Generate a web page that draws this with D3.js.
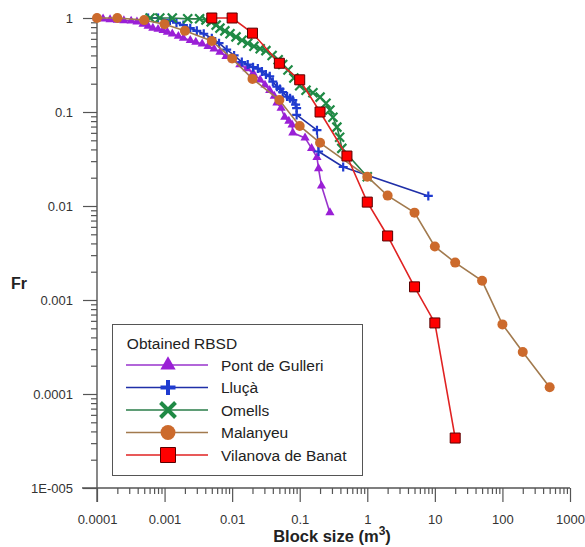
<!DOCTYPE html>
<html>
  <head>
    <meta charset="utf-8">
    <script src="https://d3js.org/d3.v7.min.js"></script>
    <style>
      body { margin: 0; background: #fff; }
      svg text { font-family: "Liberation Sans", Arial, sans-serif; }
    </style>
  </head>
<body>
  <script type="text/javascript">
    // block sizes (m3) and Fr values
    var pontX = [0.0001, 0.000123, 0.000156, 0.0002, 0.00025, 0.00032, 0.00039, 0.00048, 0.00057, 0.00067,
                 0.0008, 0.00095, 0.0011, 0.0013, 0.0016, 0.0019, 0.0024, 0.0029, 0.0036, 0.0044,
                 0.0054, 0.0066, 0.0081, 0.0103, 0.013, 0.0166, 0.0204, 0.026, 0.0306, 0.036,
                 0.042, 0.046, 0.053, 0.06, 0.069, 0.077, 0.079, 0.12, 0.15, 0.18, 0.19, 0.21, 0.28];
    var pontY = [1, 0.98, 0.96, 0.95, 0.94, 0.93, 0.91, 0.86, 0.82, 0.78,
                 0.76, 0.74, 0.71, 0.68, 0.64, 0.61, 0.58, 0.555, 0.53, 0.5,
                 0.47, 0.435, 0.39, 0.36, 0.32, 0.29, 0.26, 0.22, 0.194, 0.17,
                 0.148, 0.125, 0.11, 0.088, 0.08, 0.073, 0.06, 0.053, 0.041, 0.033, 0.025, 0.0164, 0.0085];

    var llucaX = [0.00057, 0.0008, 0.0012, 0.0015, 0.0019, 0.0024, 0.003, 0.0038, 0.005, 0.0064,
                  0.0083, 0.0107, 0.0139, 0.017, 0.0204, 0.024, 0.0276, 0.0316, 0.036, 0.04,
                  0.046, 0.051, 0.056, 0.065, 0.072, 0.079, 0.087, 0.09, 0.09, 0.18, 0.19, 0.44, 8];
    var llucaY = [1, 1, 0.94, 0.89, 0.84, 0.78, 0.73, 0.68, 0.61, 0.54,
                  0.46, 0.4, 0.34, 0.32, 0.3, 0.29, 0.27, 0.25, 0.24, 0.21,
                  0.186, 0.176, 0.163, 0.146, 0.14, 0.134, 0.12, 0.11, 0.093, 0.064, 0.038, 0.026, 0.0128];

    var omellsX = [0.00061, 0.00085, 0.0013, 0.0022, 0.0033, 0.0041, 0.0049, 0.0058, 0.0066, 0.0078,
                   0.0093, 0.0114, 0.014, 0.017, 0.021, 0.026, 0.0316, 0.039, 0.048, 0.056,
                   0.067, 0.082, 0.1, 0.124, 0.157, 0.2, 0.245, 0.28, 0.31, 0.355, 0.39, 0.42, 1];
    var omellsY = [1, 1, 1, 0.98, 0.98, 0.95, 0.91, 0.84, 0.78, 0.73,
                   0.68, 0.63, 0.58, 0.54, 0.5, 0.47, 0.45, 0.4, 0.36, 0.32,
                   0.28, 0.23, 0.19, 0.17, 0.16, 0.144, 0.124, 0.105, 0.088, 0.069, 0.054, 0.041, 0.0205];

    var malanyeuX = [0.0001, 0.0002, 0.0005, 0.001, 0.002, 0.005, 0.01, 0.02, 0.05, 0.1,
                     0.2, 1, 2, 5, 10, 20, 50, 100, 200, 500];
    var malanyeuY = [1, 1, 0.95, 0.86, 0.73, 0.57, 0.37, 0.225, 0.134, 0.071,
                     0.047, 0.0205, 0.0129, 0.0085, 0.0037, 0.0025, 0.0016, 0.00055, 0.00028, 0.000118];

    var vilanovaX = [0.005, 0.01, 0.02, 0.05, 0.1, 0.2, 0.5, 1, 2, 5, 10, 20];
    var vilanovaY = [1, 1, 0.69, 0.33, 0.22, 0.1, 0.034, 0.011, 0.0048, 0.00138, 0.00057, 0.000034];

    var xTicks = [0.0001, 0.001, 0.01, 0.1, 1, 10, 100, 1000];
    var xTickLabels = ["0.0001", "0.001", "0.01", "0.1", "1", "10", "100", "1000"];
    var yTicks = [1, 0.1, 0.01, 0.001, 0.0001, 0.00001];
    var yTickLabels = ["1", "0.1", "0.01", "0.001", "0.0001", "1E-005"];

    var seriesNames = ["Pont de Gulleri", "Lluçà", "Omells", "Malanyeu", "Vilanova de Banat"];

    var series = [
      {name: seriesNames[0], xs: pontX, ys: pontY, line: "#9933cc", fill: "#9a1fd6", shape: "triangle"},
      {name: seriesNames[1], xs: llucaX, ys: llucaY, line: "#1f2fa8", fill: "#1f3bd0", shape: "plus"},
      {name: seriesNames[2], xs: omellsX, ys: omellsY, line: "#2a7d48", fill: "#1f8a45", shape: "cross"},
      {name: seriesNames[3], xs: malanyeuX, ys: malanyeuY, line: "#a27a4e", fill: "#cc6a2c", shape: "circle"},
      {name: seriesNames[4], xs: vilanovaX, ys: vilanovaY, line: "#e02222", fill: "#ff0000", shape: "square"}
    ];

    var width = 585, height = 547;
    var svg = d3.select("body").append("svg")
        .attr("width", width)
        .attr("height", height);

    var x = d3.scaleLog().domain([1e-4, 1000]).range([97, 570]);
    var y = d3.scaleLog().domain([1e-5, 1]).range([488, 18]);

    function minorTicks(lo, hi) {
      var out = [];
      for (var e = lo; e < hi; e++) {
        for (var k = 2; k <= 9; k++) out.push(k * Math.pow(10, e));
      }
      return out;
    }

    /*
      Axes: major ticks long and labelled, minor ticks short
    */
    var axisColor = "#555";
    var xMinor = svg.append("g")
        .attr("transform", "translate(0," + y(1e-5) + ")")
        .call(d3.axisBottom(x).tickValues(minorTicks(-4, 3)).tickSize(6).tickFormat(""));
    var xMajor = svg.append("g")
        .attr("transform", "translate(0," + y(1e-5) + ")")
        .call(d3.axisBottom(x).tickValues(xTicks).tickSize(14).tickPadding(13)
          .tickFormat(function(d, i) { return xTickLabels[i]; }));
    var yMinor = svg.append("g")
        .attr("transform", "translate(" + x(1e-4) + ",0)")
        .call(d3.axisLeft(y).tickValues(minorTicks(-5, 0)).tickSize(6).tickFormat(""));
    var yMajor = svg.append("g")
        .attr("transform", "translate(" + x(1e-4) + ",0)")
        .call(d3.axisLeft(y).tickValues(yTicks).tickSize(14).tickPadding(10)
          .tickFormat(function(d, i) { return yTickLabels[i]; }));

    [xMinor, xMajor, yMinor, yMajor].forEach(function(g) {
      g.select(".domain").remove();
      g.selectAll(".tick line").attr("stroke", axisColor).attr("stroke-width", 1.2);
      g.selectAll("text").attr("fill", "#333").style("font-size", "13px");
    });

    // axis lines cross each other, like the original
    svg.append("line")
        .attr("x1", x(1e-4) - 15).attr("x2", x(1000))
        .attr("y1", y(1e-5)).attr("y2", y(1e-5))
        .attr("stroke", axisColor).attr("stroke-width", 1.4);
    svg.append("line")
        .attr("x1", x(1e-4)).attr("x2", x(1e-4))
        .attr("y1", y(1)).attr("y2", y(1e-5) + 14)
        .attr("stroke", axisColor).attr("stroke-width", 1.4);

    svg.append("text")
        .attr("x", 332).attr("y", 542)
        .attr("text-anchor", "middle")
        .style("font-size", "16.5px").style("font-weight", "bold").attr("fill", "#222")
        .html('Block size (m<tspan dy="-7" font-size="12">3</tspan><tspan dy="7">)</tspan>');
    svg.append("text")
        .attr("x", 19).attr("y", 289)
        .attr("text-anchor", "middle")
        .style("font-size", "16px").style("font-weight", "bold").attr("fill", "#222")
        .text("Fr");

    /*
      Markers
    */
    function marker(sel, s, size) {
      if (s.shape === "plus" || s.shape === "cross") {
        var h = size / 2;
        var p = s.shape === "plus"
            ? "M" + (-h) + ",0L" + h + ",0M0," + (-h) + "L0," + h
            : "M" + (-h) + "," + (-h) + "L" + h + "," + h + "M" + (-h) + "," + h + "L" + h + "," + (-h);
        sel.append("path").attr("d", p)
            .attr("stroke", s.fill).attr("stroke-width", size > 10 ? 4 : 2.2)
            .attr("fill", "none");
      } else {
        var type = s.shape === "triangle" ? d3.symbolTriangle
                 : s.shape === "circle" ? d3.symbolCircle : d3.symbolSquare;
        var area = s.shape === "triangle" ? size * size * 0.45
                 : s.shape === "circle" ? Math.PI * size * size / 4 : size * size;
        sel.append("path").attr("d", d3.symbol().type(type).size(area)())
            .attr("fill", s.fill)
            .attr("stroke", s.shape === "square" ? "#5a0000" : "none")
            .attr("stroke-width", 1);
      }
    }

    var markSize = {triangle: 9, plus: 9, cross: 9, circle: 10, square: 10};

    var line = d3.line()
        .x(function(d) { return x(d[0]); })
        .y(function(d) { return y(d[1]); });

    series.forEach(function(s) {
      var pts = s.xs.map(function(v, i) { return [v, s.ys[i]]; });
      var g = svg.append("g");
      g.append("path").datum(pts)
          .attr("d", line)
          .attr("fill", "none")
          .attr("stroke", s.line)
          .attr("stroke-width", 1.6);
      g.selectAll("g.pt").data(pts).enter().append("g")
          .attr("class", "pt")
          .attr("transform", function(d) { return "translate(" + x(d[0]) + "," + y(d[1]) + ")"; })
          .each(function() { marker(d3.select(this), s, markSize[s.shape]); });
    });

    /*
      Legend
    */
    var legend = svg.append("g");
    legend.append("rect")
        .attr("x", 112.5).attr("y", 324.5)
        .attr("width", 250).attr("height", 151)
        .attr("fill", "#fff").attr("stroke", "#555").attr("stroke-width", 1);
    legend.append("text")
        .attr("x", 182).attr("y", 349)
        .attr("text-anchor", "middle")
        .style("font-size", "15.5px").attr("fill", "#222")
        .text("Obtained RBSD");
    series.forEach(function(s, i) {
      var yy = 365 + i * 22.5;
      legend.append("line")
          .attr("x1", 126).attr("x2", 208)
          .attr("y1", yy).attr("y2", yy)
          .attr("stroke", s.line).attr("stroke-width", 1.6);
      var m = legend.append("g").attr("transform", "translate(168," + yy + ")");
      marker(m, s, 15);
      legend.append("text")
          .attr("x", 221).attr("y", yy + 5.5)
          .style("font-size", "15.5px").attr("fill", "#222")
          .text(s.name);
    });
  </script>
</body>
</html>
